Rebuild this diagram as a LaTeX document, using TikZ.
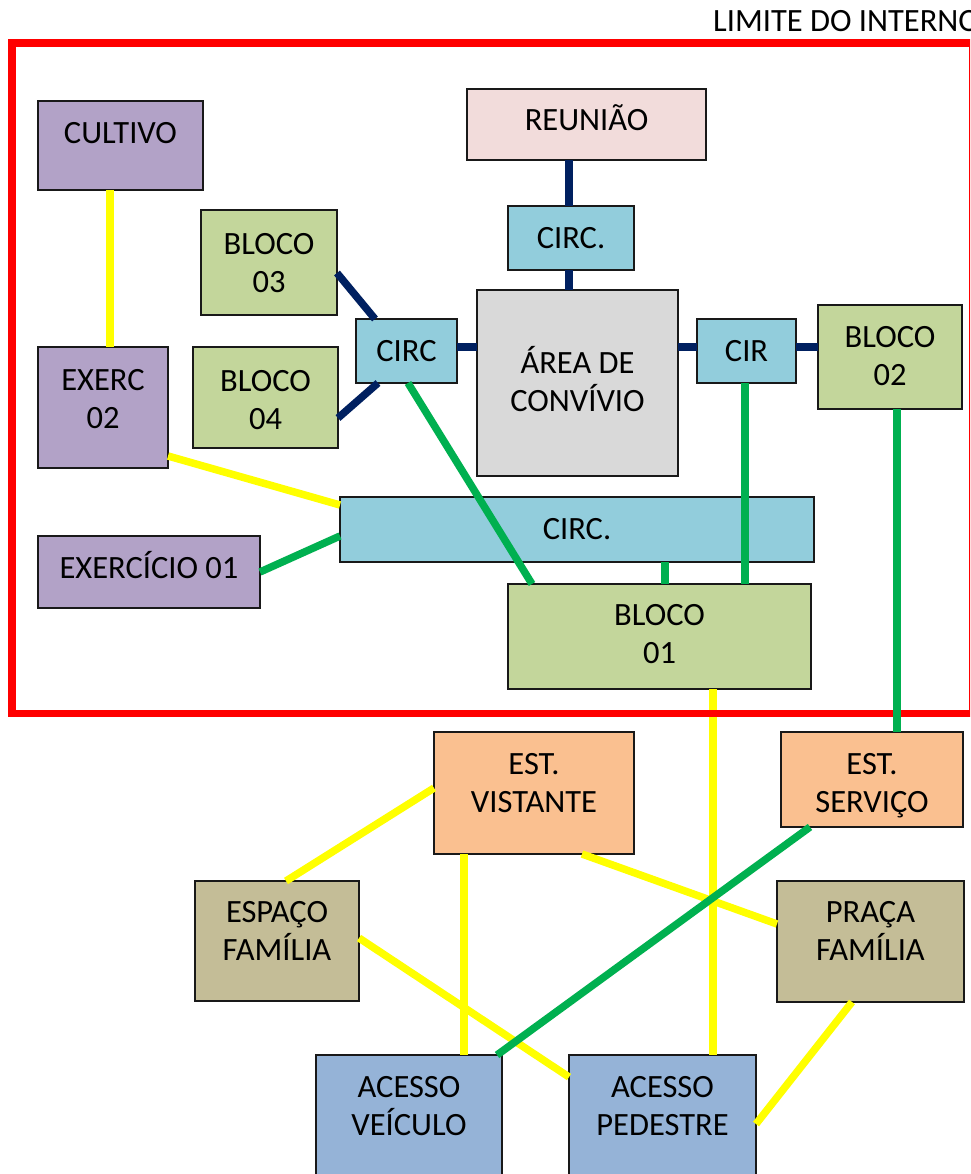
\documentclass[tikz,border=0pt]{standalone}
\usepackage{fontspec}
\setmainfont{Carlito}
\definecolor{cPurple}{HTML}{B2A2C7}
\definecolor{cPink}{HTML}{F2DCDB}
\definecolor{cCirc}{HTML}{92CDDC}
\definecolor{cGrey}{HTML}{D9D9D9}
\definecolor{cGreen}{HTML}{C3D69B}
\definecolor{cOrange}{HTML}{FAC090}
\definecolor{cTan}{HTML}{C4BD97}
\definecolor{cBlue}{HTML}{95B3D7}
\definecolor{lNavy}{HTML}{002060}
\definecolor{lGreen}{HTML}{00B050}
\definecolor{lYellow}{HTML}{FFFF00}
\definecolor{lRed}{HTML}{FF0000}
\tikzset{
  bx/.style={draw=black!90, line width=1.5pt, inner sep=0pt, outer sep=0pt},
  lbl/.style={font=\fontsize{32.5}{38}\selectfont, align=center, inner sep=0pt},
  nv/.style={draw=lNavy, line width=7.5pt},
  gr/.style={draw=lGreen, line width=7.5pt},
  yl/.style={draw=lYellow, line width=7.5pt},
  frame/.style={draw=lRed, line width=7.5pt}
}
\newcommand{\mkbox}[8]{\node[bx, fill=#6, minimum width={#4pt-#2pt}, minimum height={#5pt-#3pt}, label={[lbl, yshift=#8pt]center:{#7}}] (#1) at ({(#2+#4)/2},{-(#3+#5)/2}) {};}
\begin{document}
\begin{tikzpicture}[x=1pt,y=1pt]
\useasboundingbox (0,0) rectangle (970,-1174);
\clip (0,0) rectangle (970,-1174);
\fill[white] (0,0) rectangle (970,-1174);
\node[lbl, anchor=base west] (limite) at (713,-31.5) {LIMITE DO INTERNO};
% boxes
\mkbox{cultivo}{38}{101}{203}{190}{cPurple}{CULTIVO}{12.5}
\mkbox{reuniao}{467}{89}{706}{160}{cPink}{REUNIÃO}{6.5}
\mkbox{circtop}{508}{206}{634}{270}{cCirc}{CIRC.}{0}
\mkbox{area}{477}{290}{678}{476}{cGrey}{ÁREA DE\\CONVÍVIO}{4}
\mkbox{circl}{356}{319}{457}{383}{cCirc}{CIRC}{0}
\mkbox{cir}{697}{319}{796}{383}{cCirc}{CIR}{0}
\mkbox{bloco2}{818}{305}{962}{409}{cGreen}{BLOCO\\02}{1}
\mkbox{bloco3}{201}{210}{337}{315}{cGreen}{BLOCO\\03}{-1}
\mkbox{bloco4}{193}{347}{338}{448}{cGreen}{BLOCO\\04}{-2.5}
\mkbox{exerc2}{38}{347}{168}{468}{cPurple}{EXERC\\02}{8.5}
\mkbox{circlong}{340}{497}{814}{562}{cCirc}{CIRC.}{0}
\mkbox{exerc1}{38}{536}{260}{608}{cPurple}{EXERCÍCIO 01}{7}
\mkbox{bloco1}{508}{584}{811}{689}{cGreen}{BLOCO\\01}{2.5}
\mkbox{estvis}{434}{732}{634}{854}{cOrange}{EST.\\VISTANTE}{9.5}
\mkbox{estserv}{781}{732}{963}{827}{cOrange}{EST.\\SERVIÇO}{-6}
\mkbox{espaco}{195}{881}{359}{1001}{cTan}{ESPAÇO\\FAMÍLIA}{10}
\mkbox{praca}{777}{881}{964}{1002}{cTan}{PRAÇA\\FAMÍLIA}{10.5}
\mkbox{acv}{316}{1055}{502}{1180}{cBlue}{ACESSO\\VEÍCULO}{11}
\mkbox{acp}{569}{1055}{756}{1180}{cBlue}{ACESSO\\PEDESTRE}{11}
% yellow connectors
\draw[yl] ([xshift=-10.5pt]cultivo.south) -- ([xshift=7pt]exerc2.north);
\draw[yl] ([yshift=-48.5pt]exerc2.east) -- ([yshift=24.5pt]circlong.west);
\draw[yl] ([xshift=53.5pt]bloco1.south) -- ([xshift=50.5pt]acp.north);
\draw[yl] ([yshift=5pt]estvis.west) -- ([xshift=9pt]espaco.north);
\draw[yl] ([xshift=-70pt]estvis.south) -- ([xshift=55pt]acv.north);
\draw[yl] ([xshift=48pt]estvis.south) -- ([yshift=17.5pt]praca.west);
\draw[yl] ([yshift=3pt]espaco.east) -- ([yshift=40.5pt]acp.west);
\draw[yl] ([xshift=-18.5pt]praca.south) -- ([yshift=-6.5pt]acp.east);
% boundary
\draw[frame] (12,-43) rectangle (973,-713.5);
% navy connectors
\draw[nv] ([xshift=-17.5pt]reuniao.south) -- ([xshift=-2pt]circtop.north);
\draw[nv] ([xshift=-2pt]circtop.south) -- ([xshift=-8.5pt]area.north);
\draw[nv] ([yshift=-10.5pt]bloco3.east) -- ([xshift=-31.5pt]circl.north);
\draw[nv] ([yshift=-20.5pt]bloco4.east) -- ([xshift=-28.5pt]circl.south);
\draw[nv] ([yshift=4pt]circl.east) -- ([yshift=36pt]area.west);
\draw[nv] ([yshift=36pt]area.east) -- ([yshift=4pt]cir.west);
\draw[nv] ([yshift=4pt]cir.east) -- ([yshift=10pt]bloco2.west);
% green connectors
\draw[gr] ([xshift=1.5pt]circl.south) -- ([xshift=-127.5pt]bloco1.north);
\draw[gr] ([xshift=88pt]circlong.south) -- ([xshift=5.5pt]bloco1.north);
\draw[gr] ([xshift=-1.5pt]cir.south) -- ([xshift=85.5pt]bloco1.north);
\draw[gr] ([xshift=7pt]bloco2.south) -- ([xshift=25pt]estserv.north);
\draw[gr] (exerc1.east) -- ([yshift=-6.5pt]circlong.west);
\draw[gr] ([xshift=-62pt]estserv.south) -- ([xshift=88pt]acv.north);
\end{tikzpicture}
\end{document}
